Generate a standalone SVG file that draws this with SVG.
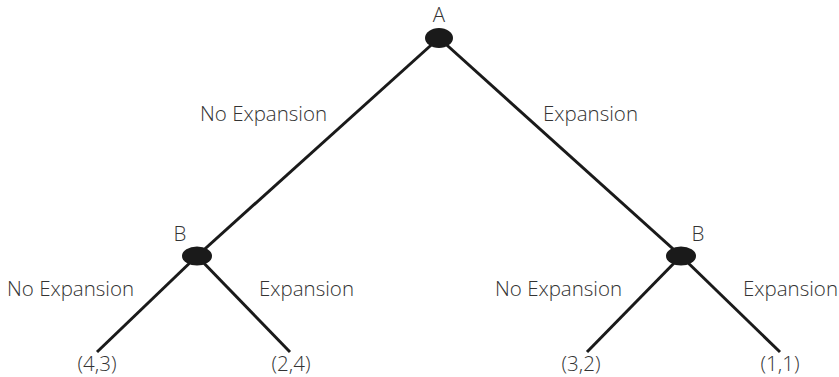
<svg xmlns="http://www.w3.org/2000/svg" width="839" height="377" viewBox="0 0 839 377">
<style>
.lbl{font-family:"Open Sans","Liberation Sans",Arial,sans-serif;font-weight:300;font-size:20.5px;fill:#333}
.mid{text-anchor:middle}
.edge{stroke:#1a1a1a;stroke-width:3;fill:none}
.node{fill:#1a1a1a}
</style>
<rect width="839" height="377" fill="#fff"/>
<g id="connectors">
<line class="edge" x1="439" y1="38" x2="197" y2="256"/>
<line class="edge" x1="439" y1="38" x2="681" y2="256"/>
<line class="edge" x1="197" y1="256" x2="97" y2="352"/>
<line class="edge" x1="197" y1="256" x2="290" y2="352"/>
<line class="edge" x1="681" y1="256" x2="587" y2="352"/>
<line class="edge" x1="681" y1="256" x2="780" y2="352"/>
</g>
<g id="edge-labels">
<text class="lbl" x="200" y="121">No Expansion</text>
<text class="lbl" x="543" y="121">Expansion</text>
<text class="lbl" x="7" y="296">No Expansion</text>
<text class="lbl" x="259" y="296">Expansion</text>
<text class="lbl" x="495" y="296">No Expansion</text>
<text class="lbl" x="743" y="296">Expansion</text>
</g>
<g id="nodeA">
<ellipse class="node" cx="439" cy="38" rx="14" ry="10"/>
<text class="lbl mid" x="439" y="22">A</text>
</g>
<g id="nodeB1">
<ellipse class="node" cx="197" cy="256" rx="15" ry="9.5"/>
<text class="lbl mid" x="180" y="241">B</text>
</g>
<g id="nodeB2">
<ellipse class="node" cx="681" cy="256" rx="15" ry="9.5"/>
<text class="lbl mid" x="698" y="241">B</text>
</g>
<g id="leaf1"><text class="lbl mid" x="97" y="371">(4,3)</text></g>
<g id="leaf2"><text class="lbl mid" x="291" y="371">(2,4)</text></g>
<g id="leaf3"><text class="lbl mid" x="581" y="371">(3,2)</text></g>
<g id="leaf4"><text class="lbl mid" x="780" y="371">(1,1)</text></g>
</svg>
